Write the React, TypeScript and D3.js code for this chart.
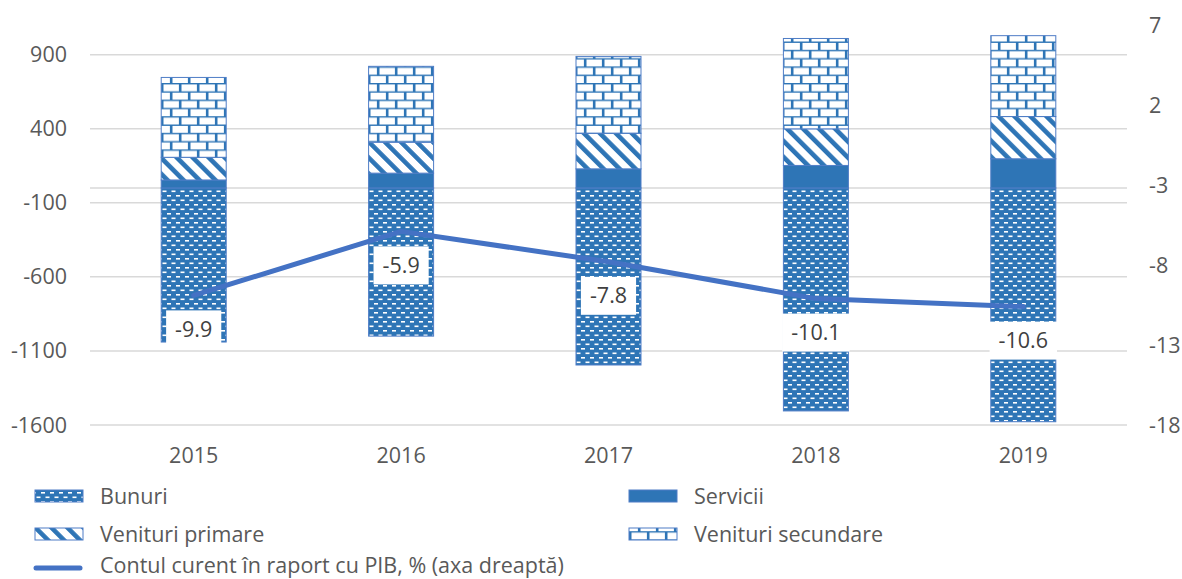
import React, { useEffect, useRef } from "react";
import * as d3 from "d3";

const years = ["2015", "2016", "2017", "2018", "2019"];
const bunuri = [-1040, -1000, -1195, -1505, -1578];
const servicii = [54, 100, 129, 152, 197];
const venituriPrimare = [153, 209, 240, 247, 285];
const venituriSecundare = [539, 512, 519, 610, 546];
const contCurent = [-9.9, -5.9, -7.8, -10.1, -10.6];
const leftTicks = [900, 400, -100, -600, -1100, -1600];
const rightTicks = [7, 2, -3, -8, -13, -18];

const seriesNames = ["Bunuri", "Servicii", "Venituri primare", "Venituri secundare"];
const lineName = "Contul curent în raport cu PIB, % (axa dreaptă)";

const width = 1182;
const height = 579;
const blue = "#2E75B6";
const lineBlue = "#4472C4";
const textColor = "#595959";
const font = "'Open Sans', sans-serif";
const fontSize = 21.5;

const App = () => {
  const ref = useRef<SVGSVGElement>(null);

  useEffect(() => {
    const svg = d3.select(ref.current);
    svg.selectAll("*").remove();

    const x = d3
      .scaleBand<string>()
      .domain(years)
      .range([90, 1127])
      .paddingInner(0.6866)
      .paddingOuter(0.3433);
    const yLeft = d3.scaleLinear().domain([-1600, 1100]).range([425, 25]);
    const yRight = d3.scaleLinear().domain([-18, 7]).range([425, 25]);

    // patterns
    const defs = svg.append("defs");
    const pBun = defs
      .append("pattern")
      .attr("id", "p-bunuri")
      .attr("patternUnits", "userSpaceOnUse")
      .attr("width", 9)
      .attr("height", 9);
    pBun.append("rect").attr("width", 9).attr("height", 9).attr("fill", blue);
    pBun.append("rect").attr("x", 0.5).attr("y", 1.5).attr("width", 4).attr("height", 1.6).attr("fill", "#fff");
    pBun.append("rect").attr("x", 5).attr("y", 6).attr("width", 4).attr("height", 1.6).attr("fill", "#fff");

    const pPrim = defs
      .append("pattern")
      .attr("id", "p-primare")
      .attr("patternUnits", "userSpaceOnUse")
      .attr("width", 11.3)
      .attr("height", 11.3)
      .attr("patternTransform", "rotate(-45)");
    pPrim.append("rect").attr("width", 11.3).attr("height", 11.3).attr("fill", "#fff");
    pPrim.append("rect").attr("width", 4.6).attr("height", 11.3).attr("fill", blue);

    const pSec = defs
      .append("pattern")
      .attr("id", "p-secundare")
      .attr("patternUnits", "userSpaceOnUse")
      .attr("width", 18)
      .attr("height", 16.6);
    pSec.append("rect").attr("width", 18).attr("height", 16.6).attr("fill", blue);
    pSec.append("rect").attr("x", 1.5).attr("y", 1.4).attr("width", 15.4).attr("height", 6.9).attr("fill", "#fff");
    pSec.append("rect").attr("x", -7.5).attr("y", 9.7).attr("width", 15.4).attr("height", 6.9).attr("fill", "#fff");
    pSec.append("rect").attr("x", 10.5).attr("y", 9.7).attr("width", 15.4).attr("height", 6.9).attr("fill", "#fff");

    const fills = ["url(#p-bunuri)", blue, "url(#p-primare)", "url(#p-secundare)"];

    // gridlines (+ zero line)
    svg
      .append("g")
      .selectAll("line")
      .data([...leftTicks, 0])
      .join("line")
      .attr("x1", 90)
      .attr("x2", 1127)
      .attr("y1", (d) => yLeft(d))
      .attr("y2", (d) => yLeft(d))
      .attr("stroke", "#D9D9D9")
      .attr("stroke-width", 1.5);

    // axis labels
    svg
      .append("g")
      .selectAll("text")
      .data(leftTicks)
      .join("text")
      .attr("x", 67)
      .attr("y", (d) => yLeft(d))
      .attr("dy", "0.35em")
      .attr("text-anchor", "end")
      .attr("fill", textColor)
      .style("font", `${fontSize}px ${font}`)
      .text((d) => d);

    svg
      .append("g")
      .selectAll("text")
      .data(rightTicks)
      .join("text")
      .attr("x", 1149)
      .attr("y", (d) => yRight(d))
      .attr("dy", "0.35em")
      .attr("fill", textColor)
      .style("font", `${fontSize}px ${font}`)
      .text((d) => d);

    svg
      .append("g")
      .selectAll("text")
      .data(years)
      .join("text")
      .attr("x", (d) => (x(d) || 0) + x.bandwidth() / 2)
      .attr("y", 463)
      .attr("text-anchor", "middle")
      .attr("fill", textColor)
      .style("font", `${fontSize}px ${font}`)
      .text((d) => d);

    // stacked bars
    const rows = years.map((year, i) => ({
      year,
      [seriesNames[0]]: bunuri[i],
      [seriesNames[1]]: servicii[i],
      [seriesNames[2]]: venituriPrimare[i],
      [seriesNames[3]]: venituriSecundare[i],
    }));
    const stack = d3
      .stack<any>()
      .keys(seriesNames)
      .offset(d3.stackOffsetDiverging);
    const stacked = stack(rows);

    stacked.forEach((layer, k) => {
      svg
        .append("g")
        .selectAll("rect")
        .data(layer)
        .join("rect")
        .attr("x", (d) => x(d.data.year) || 0)
        .attr("width", x.bandwidth())
        .attr("y", (d) => yLeft(Math.max(d[0], d[1])))
        .attr("height", (d) => Math.abs(yLeft(d[0]) - yLeft(d[1])))
        .attr("fill", fills[k])
        .attr("stroke", "#4F7DC6")
        .attr("stroke-width", 1);
    });

    // line on right axis
    const line = d3
      .line<number>()
      .x((_, i) => (x(years[i]) || 0) + x.bandwidth() / 2)
      .y((d) => yRight(d));
    svg
      .append("path")
      .datum(contCurent)
      .attr("d", line)
      .attr("fill", "none")
      .attr("stroke", lineBlue)
      .attr("stroke-width", 5)
      .attr("stroke-linecap", "round")
      .attr("stroke-linejoin", "round");

    // data labels below points
    contCurent.forEach((v, i) => {
      const cx = (x(years[i]) || 0) + x.bandwidth() / 2;
      const cy = yRight(v) + 34;
      const g = svg.append("g");
      const box = g.append("rect").attr("fill", "#fff");
      const t = g
        .append("text")
        .attr("x", cx)
        .attr("y", cy)
        .attr("dy", "0.35em")
        .attr("text-anchor", "middle")
        .attr("fill", "#404040")
        .style("font", `${fontSize}px ${font}`)
        .text(v.toFixed(1));
      const w = (t.node() as SVGTextElement).getComputedTextLength() + 18;
      box
        .attr("x", cx - w / 2)
        .attr("y", cy - 19)
        .attr("width", w)
        .attr("height", 38);
    });

    // legend
    const legendItems = [
      { name: seriesNames[0], fill: fills[0], x: 35, y: 496 },
      { name: seriesNames[1], fill: fills[1], x: 629, y: 496 },
      { name: seriesNames[2], fill: fills[2], x: 35, y: 534 },
      { name: seriesNames[3], fill: fills[3], x: 629, y: 534 },
    ];
    const legend = svg.append("g");
    legendItems.forEach((item) => {
      legend
        .append("rect")
        .attr("x", item.x)
        .attr("y", item.y - 6)
        .attr("width", 48)
        .attr("height", 12)
        .attr("fill", item.fill)
        .attr("stroke", "#4F7DC6")
        .attr("stroke-width", 1);
      legend
        .append("text")
        .attr("x", item.x + 65)
        .attr("y", item.y)
        .attr("dy", "0.35em")
        .attr("fill", textColor)
        .style("font", `${fontSize}px ${font}`)
        .text(item.name);
    });
    legend
      .append("line")
      .attr("x1", 36)
      .attr("x2", 80)
      .attr("y1", 568)
      .attr("y2", 568)
      .attr("stroke", lineBlue)
      .attr("stroke-width", 5)
      .attr("stroke-linecap", "round");
    legend
      .append("text")
      .attr("x", 100)
      .attr("y", 573)
      .attr("fill", textColor)
      .style("font", `${fontSize}px ${font}`)
      .text(lineName);
  }, []);

  return (
    <svg
      ref={ref}
      width={width}
      height={height}
      style={{ position: "absolute", left: 0, top: 0, background: "#fff" }}
    />
  );
};

export default App;
